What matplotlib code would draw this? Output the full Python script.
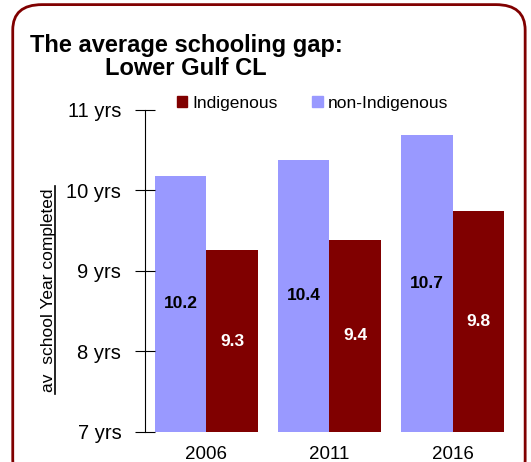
import matplotlib.pyplot as plt
from matplotlib.patches import FancyBboxPatch, Patch
import numpy as np

plt.rcParams['font.family'] = ['Liberation Sans', 'DejaVu Sans']

years = ['2006', '2011', '2016']
non_indigenous = [10.18, 10.38, 10.69]
indigenous = [9.26, 9.39, 9.75]
ytick_vals = [7, 8, 9, 10, 11]
ytick_labels = ['7 yrs', '8 yrs', '9 yrs', '10 yrs', '11 yrs']

purple = '#9999FF'
darkred = '#800000'

fig = plt.figure(figsize=(5.31, 4.62), dpi=100)
ax = fig.add_axes([0.273, 0.065, 0.695, 0.697])

x = np.arange(len(years))
w = 0.415
b1 = ax.bar(x - w / 2, np.array(non_indigenous) - 7, w, bottom=7, color=purple)
b2 = ax.bar(x + w / 2, np.array(indigenous) - 7, w, bottom=7, color=darkred)

for rect, v in zip(b1, non_indigenous):
    ax.text(rect.get_x() + rect.get_width() / 2, 7 + (v - 7) / 2, f'{v:.1f}',
            ha='center', va='center', fontsize=12.5, fontweight='bold', color='black')
for rect, v in zip(b2, indigenous):
    ax.text(rect.get_x() + rect.get_width() / 2, 7 + (v - 7) / 2, f'{v:.1f}',
            ha='center', va='center', fontsize=12.5, fontweight='bold', color='white')

ax.set_xlim(-0.5, 2.5)
ax.set_ylim(7, 11)
ax.set_yticks(ytick_vals)
ax.set_yticklabels(ytick_labels, fontsize=14.5)
ax.set_xticks(x)
ax.set_xticklabels(years, fontsize=13.5)
ax.tick_params(axis='x', length=0, pad=10)
ax.tick_params(axis='y', direction='inout', length=14, width=0.8, pad=10)
for s in ['top', 'right', 'bottom']:
    ax.spines[s].set_visible(False)
ax.spines['left'].set_linewidth(0.8)

ax.set_ylabel('av  school Year completed', fontsize=12.5)
ax.yaxis.set_label_coords(-0.24, 0.441)
ax.plot([-0.245, -0.245], [7.47, 10.05], color='black', lw=1.2,
        transform=ax.get_yaxis_transform(), clip_on=False)

handles = [Patch(color=darkred), Patch(color=purple)]
fig.legend(handles, ['Indigenous', 'non-Indigenous'], loc='center left',
           bbox_to_anchor=(0.303, 0.777), ncol=2, frameon=False, fontsize=12.5,
           handlelength=0.6, handleheight=0.6, handletextpad=0.3, columnspacing=2.0)

fig.text(0.057, 0.902, 'The average schooling gap:', fontsize=17, fontweight='bold',
         va='center', ha='left')
fig.text(0.197, 0.852, 'Lower Gulf CL', fontsize=17, fontweight='bold',
         va='center', ha='left')

box = FancyBboxPatch((0.024, -0.05), 0.965, 1.04, boxstyle='round,pad=0,rounding_size=0.055',
                     transform=fig.transFigure, fill=False, edgecolor=darkred, lw=2)
fig.patches.append(box)

fig.savefig('out.png', dpi=100)
